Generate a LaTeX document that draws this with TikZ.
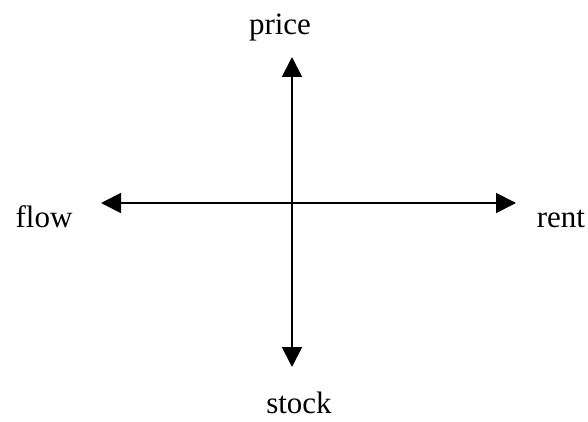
\documentclass[tikz,border=0pt]{standalone}
\usepackage{fontspec}
\setmainfont{Liberation Serif}
\usetikzlibrary{arrows.meta}

\begin{document}
\begin{tikzpicture}[
    x=1pt, y=1pt,
    axis/.style={black, line width=1.8pt, -{Triangle[length=20pt, width=20pt]}},
    axlabel/.style={anchor=base, inner sep=0pt, font=\fontsize{31}{37}\selectfont},
]
\useasboundingbox (0,0) rectangle (588,421);

% Origin and arrow tips
\coordinate (o) at (292,218);
\coordinate (up) at (292,364);
\coordinate (down) at (292,54);
\coordinate (left) at (101,218);
\coordinate (right) at (516,218);

% Axes
\draw[axis] (o) -- (up);
\draw[axis] (o) -- (down);
\draw[axis] (o) -- (left);
\draw[axis] (o) -- (right);

% Labels
\node[axlabel] (price) at (280,386) {price};
\node[axlabel] (stock) at (299,8) {stock};
\node[axlabel] (flow) at (44,194) {flow};
\node[axlabel] (rent) at (561,194) {rent};

\end{tikzpicture}
\end{document}
